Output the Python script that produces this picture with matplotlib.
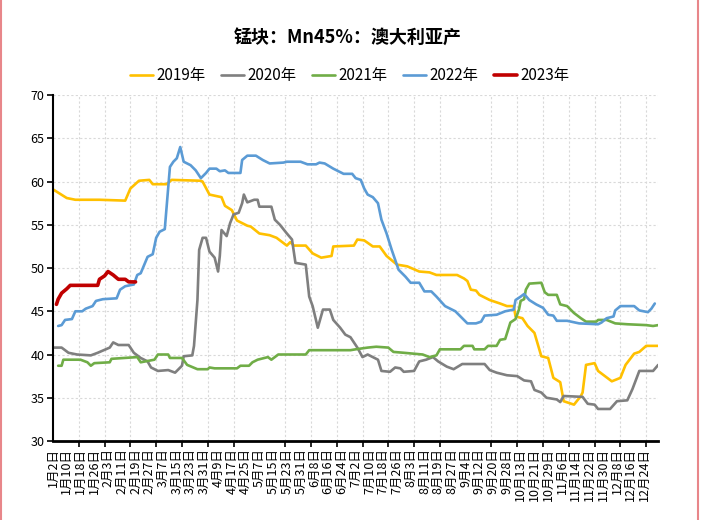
import numpy as np
import matplotlib
matplotlib.use('Agg')
import matplotlib.pyplot as plt
from matplotlib.lines import Line2D

plt.rcParams['font.family'] = ['Noto Sans CJK SC', 'DejaVu Sans']

# x = trading-day index, labels every 8 days, ticks every 15
date_labels = ["1月2日", "1月10日", "1月18日", "1月26日", "2月3日", "2月11日", "2月19日", "2月27日",
               "3月7日", "3月15日", "3月23日", "3月31日", "4月9日", "4月17日", "4月25日", "5月7日",
               "5月15日", "5月23日", "5月31日", "6月8日", "6月16日", "6月24日", "7月2日", "7月10日",
               "7月18日", "7月26日", "8月3日", "8月11日", "8月19日", "8月27日", "9月4日", "9月12日",
               "9月20日", "9月28日", "10月13日", "10月21日", "10月29日", "11月6日", "11月14日",
               "11月22日", "11月30日", "12月8日", "12月16日", "12月24日"]

x2019 = [0, 8, 13, 27, 42, 45, 50, 56, 58, 66, 69, 86, 87, 91, 98, 100, 104, 107, 113, 115, 120, 126,
         130, 136, 138, 140, 147, 151, 156, 162, 163, 175, 177, 181, 186, 190, 194, 200, 206, 213, 219,
         223, 235, 239, 241, 243, 246, 248, 254, 260, 264, 268, 269, 273, 276, 280, 284, 288, 291, 295,
         297, 303, 307, 308, 310, 315, 317, 325, 330, 333, 338, 341, 345, 352]
y2019 = [59.1, 58.1, 57.9, 57.9, 57.8, 59.2, 60.1, 60.2, 59.7, 59.7, 60.2, 60.1, 60.0, 58.5, 58.2, 57.2,
         56.7, 55.5, 54.9, 54.8, 54.0, 53.8, 53.5, 52.6, 53.0, 52.6, 52.6, 51.7, 51.2, 51.4, 52.5, 52.6,
         53.3, 53.2, 52.5, 52.5, 51.4, 50.4, 50.2, 49.6, 49.5, 49.2, 49.2, 48.8, 48.5, 47.5, 47.4, 46.9,
         46.3, 45.9, 45.6, 45.6, 44.4, 44.2, 43.3, 42.5, 39.8, 39.6, 37.3, 36.8, 34.6, 34.2, 35.2, 35.6,
         38.8, 39.0, 38.1, 36.9, 37.3, 38.8, 40.1, 40.3, 41.0, 41.0]

x2020 = [0, 5, 9, 14, 22, 26, 33, 35, 38, 44, 47, 51, 55, 57, 61, 67, 71, 75, 76, 81, 82, 84, 85, 87, 89,
         91, 94, 96, 97, 98, 101, 103, 105, 108, 110, 111, 113, 117, 119, 120, 127, 129, 132, 136, 139,
         141, 147, 149, 151, 154, 157, 161, 163, 167, 170, 173, 177, 180, 183, 186, 189, 191, 196, 199,
         202, 204, 210, 213, 217, 221, 224, 229, 233, 238, 251, 254, 258, 264, 270, 274, 278, 280, 284,
         287, 293, 295, 297, 308, 311, 315, 317, 324, 328, 334, 337, 341, 349, 352]
y2020 = [40.8, 40.8, 40.2, 40.0, 39.9, 40.2, 40.8, 41.4, 41.1, 41.1, 40.2, 39.6, 39.2, 38.5, 38.1, 38.2,
         37.9, 38.7, 39.8, 39.9, 41.0, 46.3, 52.1, 53.5, 53.5, 51.9, 51.2, 49.6, 51.4, 54.4, 53.7, 55.2,
         56.2, 56.4, 57.5, 58.5, 57.6, 57.9, 57.9, 57.1, 57.1, 55.6, 55.0, 54.0, 53.3, 50.6, 50.4, 46.7,
         45.6, 43.1, 45.2, 45.2, 44.0, 43.1, 42.3, 42.0, 40.8, 39.7, 40.0, 39.7, 39.4, 38.1, 38.0, 38.5,
         38.4, 38.0, 38.1, 39.2, 39.4, 39.7, 39.2, 38.6, 38.3, 38.9, 38.9, 38.2, 37.9, 37.6, 37.5, 37.0,
         36.9, 35.9, 35.6, 35.0, 34.8, 34.5, 35.2, 35.1, 34.3, 34.2, 33.7, 33.7, 34.6, 34.7, 36.0, 38.1,
         38.1, 38.8]

x2021 = [3, 5, 6, 16, 20, 22, 24, 33, 34, 49, 51, 59, 61, 67, 68, 75, 78, 84, 90, 91, 94, 107, 109, 114,
         116, 119, 125, 127, 131, 147, 149, 173, 176, 183, 188, 195, 198, 204, 215, 219, 223, 225, 237,
         239, 244, 245, 251, 253, 258, 260, 263, 266, 269, 271, 272, 274, 275, 277, 284, 286, 288, 293,
         295, 299, 303, 307, 310, 316, 317, 322, 327, 334, 345, 349, 352]
y2021 = [38.7, 38.7, 39.4, 39.4, 39.1, 38.7, 39.0, 39.1, 39.5, 39.7, 39.1, 39.4, 40.0, 40.0, 39.6, 39.6,
         38.8, 38.3, 38.3, 38.5, 38.4, 38.4, 38.7, 38.7, 39.1, 39.4, 39.7, 39.4, 40.0, 40.0, 40.5, 40.5,
         40.6, 40.8, 40.9, 40.8, 40.3, 40.2, 40.0, 39.7, 39.9, 40.6, 40.6, 41.0, 41.0, 40.6, 40.6, 41.0,
         41.0, 41.7, 41.8, 43.7, 44.1, 45.2, 46.2, 46.4, 47.5, 48.2, 48.3, 47.2, 46.9, 46.9, 45.8, 45.6,
         44.8, 44.2, 43.8, 43.8, 44.0, 44.0, 43.6, 43.5, 43.4, 43.3, 43.4]

x2022 = [3, 5, 7, 11, 13, 17, 19, 23, 25, 29, 37, 39, 42, 47, 49, 51, 55, 58, 60, 62, 65, 68, 70, 72, 74,
         76, 80, 83, 86, 89, 91, 95, 97, 100, 102, 109, 110, 113, 118, 122, 126, 134, 136, 144, 148, 153,
         155, 158, 163, 169, 174, 176, 179, 181, 183, 186, 189, 191, 194, 197, 201, 205, 208, 213, 216,
         220, 223, 228, 234, 237, 241, 246, 249, 251, 258, 263, 268, 269, 272, 274, 277, 281, 285, 288,
         291, 293, 299, 306, 317, 319, 322, 326, 327, 330, 338, 341, 346, 348, 350]
y2022 = [43.3, 43.4, 44.0, 44.1, 45.0, 45.0, 45.3, 45.6, 46.2, 46.4, 46.5, 47.5, 47.9, 48.1, 49.2, 49.4,
         51.3, 51.6, 53.5, 54.2, 54.5, 61.7, 62.3, 62.7, 64.0, 62.3, 61.9, 61.3, 60.4, 61.0, 61.5, 61.5,
         61.2, 61.3, 61.0, 61.0, 62.5, 63.0, 63.0, 62.5, 62.1, 62.2, 62.3, 62.3, 62.0, 62.0, 62.2, 62.1,
         61.5, 60.9, 60.9, 60.4, 60.2, 59.2, 58.5, 58.2, 57.5, 55.6, 54.0, 52.1, 49.8, 49.0, 48.3, 48.3,
         47.3, 47.3, 46.7, 45.6, 45.0, 44.4, 43.6, 43.6, 43.8, 44.5, 44.6, 45.0, 45.2, 46.3, 46.7, 47.0,
         46.3, 45.8, 45.4, 44.6, 44.5, 43.9, 43.9, 43.6, 43.5, 43.7, 44.2, 44.4, 45.1, 45.6, 45.6, 45.1,
         44.9, 45.3, 45.9]

x2023 = [2, 3, 5, 8, 10, 26, 27, 30, 32, 35, 38, 42, 44, 48]
y2023 = [45.8, 46.4, 47.1, 47.6, 48.0, 48.0, 48.7, 49.1, 49.6, 49.2, 48.7, 48.7, 48.4, 48.4]

series = [("2019年", x2019, y2019, "#FFC000", 1.9),
          ("2020年", x2020, y2020, "#7F7F7F", 1.9),
          ("2021年", x2021, y2021, "#70AD47", 1.9),
          ("2022年", x2022, y2022, "#5B9BD5", 1.9),
          ("2023年", x2023, y2023, "#C00000", 2.6)]

fig = plt.figure(figsize=(7.04, 5.2), dpi=100)
ax = fig.add_axes([0.0753, 0.152, 0.8597, 0.665])

for name, xs, ys, col, lw in series:
    ax.plot(xs, ys, color=col, lw=lw, label=name, solid_capstyle='round', solid_joinstyle='round')

ax.set_xlim(0, 352)
ax.set_ylim(30, 70)
ax.set_yticks(np.arange(30, 71, 5))
ax.tick_params(axis='y', labelsize=9, length=4, width=1.2, pad=2)

label_pos = np.arange(len(date_labels)) * 8
ax.set_xticks(label_pos)
ax.set_xticklabels(date_labels, rotation=90, fontsize=9)
ax.tick_params(axis='x', which='major', length=0, pad=5)
ax.set_xticks(np.arange(0, 352, 15), minor=True)
ax.tick_params(axis='x', which='minor', length=4, width=1.2)

ax.grid(False)
ax.grid(True, axis='x', which='minor', color='#D9D9D9', ls=(0, (2, 2)), lw=0.8)
ax.grid(True, axis='y', which='major', color='#D9D9D9', ls=(0, (2, 2)), lw=0.8)
ax.set_axisbelow(True)

for s in ['top', 'right']:
    ax.spines[s].set_visible(False)
ax.spines['left'].set_linewidth(1.5)
ax.spines['bottom'].set_linewidth(2)

fig.text(0.494, 0.928, "锰块：Mn45%：澳大利亚产", ha='center', va='center', fontsize=13, fontweight='bold')
fig.legend(loc='center', bbox_to_anchor=(0.497, 0.855), ncol=5, frameon=False, fontsize=11,
           handlelength=1.5, handletextpad=0.25, columnspacing=1.0)

# pink frame edges
fig.add_artist(Line2D([0.002, 0.002], [0, 1], color='#E8868A', lw=1.5, transform=fig.transFigure))
fig.add_artist(Line2D([0.991, 0.991], [0, 1], color='#E8868A', lw=1.5, transform=fig.transFigure))

fig.savefig('out.png', dpi=100)
